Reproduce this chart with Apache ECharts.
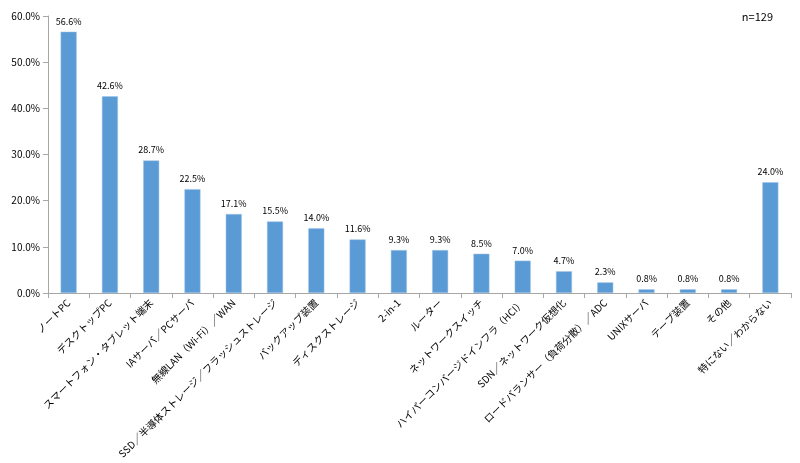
<!DOCTYPE html>
<html><head><meta charset="utf-8">
<script src="https://cdn.jsdelivr.net/npm/echarts@6/dist/echarts.min.js"></script>
<style>html,body{margin:0;padding:0;background:#fff}#c{width:800px;height:463px}</style>
</head><body><div id="c"></div>
<script>
const categories = ['ノートPC','デスクトップPC','スマートフォン・タブレット端末','IAサーバ／PCサーバ','無線LAN（Wi-Fi）／WAN','SSD／半導体ストレージ／フラッシュストレージ','バックアップ装置','ディスクストレージ','2-in-1','ルーター','ネットワークスイッチ','ハイパーコンバージドインフラ（HCI）','SDN／ネットワーク仮想化','ロードバランサー（負荷分散）／ADC','UNIXサーバ','テープ装置','その他','特にない／わからない'];
const values = [56.6,42.6,28.7,22.5,17.1,15.5,14.0,11.6,9.3,9.3,8.5,7.0,4.7,2.3,0.8,0.8,0.8,24.0];
const yTicks = [0,10,20,30,40,50,60];
const font = '"Noto Sans CJK JP","Noto Sans",sans-serif';
const chart = echarts.init(document.getElementById('c'));
chart.setOption({
  animation:false,
  grid:{left:48,right:9,top:16,bottom:170,containLabel:false},
  graphic:[{type:'text',right:27,top:11,style:{text:'n=129',font:'11px '+font,fill:'#000'}}],
  xAxis:{type:'category',data:categories,
    axisLine:{lineStyle:{color:'#a6a6a6'}},
    axisTick:{show:true,alignWithLabel:false,length:5,lineStyle:{color:'#a6a6a6'}},
    axisLabel:{rotate:45,interval:0,fontSize:10,color:'#000',fontFamily:font,margin:8}},
  yAxis:{type:'value',min:0,max:60,interval:10,
    axisLine:{show:true,lineStyle:{color:'#a6a6a6'}},
    axisTick:{show:true,length:5,lineStyle:{color:'#a6a6a6'}},
    splitLine:{show:false},
    axisLabel:{fontSize:10,color:'#000',fontFamily:font,margin:8,formatter:v=>v.toFixed(1)+'%'}},
  series:[{type:'bar',data:values,barWidth:16,
    itemStyle:{color:'#5b9bd5',borderColor:'#9dc3e6',borderWidth:0.5},
    label:{show:true,position:'top',fontSize:9,color:'#000',fontFamily:font,distance:6,formatter:p=>p.value.toFixed(1)+'%'}}]
});
</script></body></html>
